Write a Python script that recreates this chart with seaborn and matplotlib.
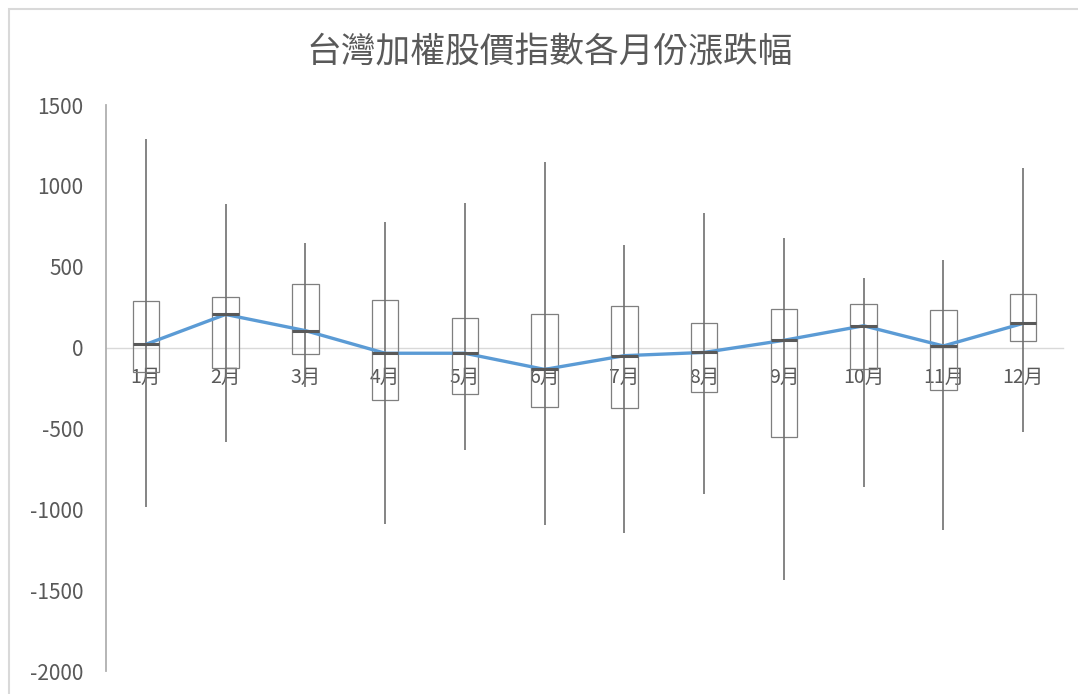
import numpy as np
import pandas as pd
import matplotlib
matplotlib.use("Agg")
import matplotlib.pyplot as plt
import seaborn as sns
from matplotlib.patches import Rectangle

# monthly change of TAIEX (points)
months = ["1月", "2月", "3月", "4月", "5月", "6月", "7月", "8月", "9月", "10月", "11月", "12月"]
high = [1290, 885, 645, 775, 895, 1145, 635, 830, 675, 430, 540, 1110]
low = [-985, -585, -245, -1090, -635, -1100, -1145, -905, -1440, -860, -1130, -520]
box_top = [285, 315, 395, 295, 185, 205, 255, 150, 240, 270, 235, 330]
box_bottom = [-150, -125, -40, -325, -285, -370, -375, -275, -555, -130, -265, 40]
mean = [20, 205, 105, -35, -35, -135, -50, -30, 45, 135, 10, 150]

yticks = list(range(-2000, 1501, 500))
title = "台灣加權股價指數各月份漲跌幅"

sns.set_theme(style="white")
plt.rcParams['font.family'] = ['Noto Sans CJK TC', 'DejaVu Sans']

df = pd.DataFrame({"month": months, "high": high, "low": low,
                   "top": box_top, "bottom": box_bottom, "mean": mean})
df["x"] = np.arange(len(df))

fig = plt.figure(figsize=(10.78, 6.94), dpi=100)
ax = fig.add_axes([0.0983, 0.0331, 0.8878, 0.8156])

box_w = 0.33
# high-low lines
ax.vlines(df["x"], df["low"], df["high"], color="#707070", lw=1.2, zorder=4)
# up-down boxes
ax.bar(df["x"], df["top"] - df["bottom"], bottom=df["bottom"], width=box_w,
       fill=False, edgecolor="#7f7f7f", linewidth=0.9, zorder=3)
# blue average line
sns.lineplot(data=df, x="x", y="mean", color="#5B9BD5", lw=2.4, ax=ax, zorder=5)
# dark marks at the average
ax.hlines(df["mean"], df["x"] - box_w / 2, df["x"] + box_w / 2,
          color="#595959", lw=2.2, zorder=6)

ax.set_xlim(-0.5, len(months) - 0.5)
ax.set_ylim(-2000, 1500)
ax.set_yticks(yticks)
ax.set_yticklabels([str(v) for v in yticks])
ax.set_xticks(df["x"])
ax.set_xticklabels(months)
ax.set_xlabel("")
ax.set_ylabel("")

ax.spines["top"].set_visible(False)
ax.spines["right"].set_visible(False)
ax.spines["bottom"].set_position(("data", 0))
ax.spines["bottom"].set_color("#d9d9d9")
ax.spines["bottom"].set_linewidth(1.0)
ax.spines["bottom"].set_zorder(1)
ax.spines["left"].set_color("#b0b0b0")
ax.spines["left"].set_linewidth(1.3)

ax.tick_params(axis="y", length=0, pad=16, labelsize=15, labelcolor="#595959")
ax.tick_params(axis="x", length=0, pad=14, labelsize=14, labelcolor="#595959")

fig.text(0.5102, 0.925, title, ha="center", va="center", fontsize=25,
         fontweight="light", color="#595959")

# outer chart frame
fig.patches.append(Rectangle((9 / 1078, -0.05), 1.1, 1.05 - 9 / 694, transform=fig.transFigure,
                             fill=False, edgecolor="#d9d9d9", lw=1.5))

plt.savefig("out.png", dpi=100)
